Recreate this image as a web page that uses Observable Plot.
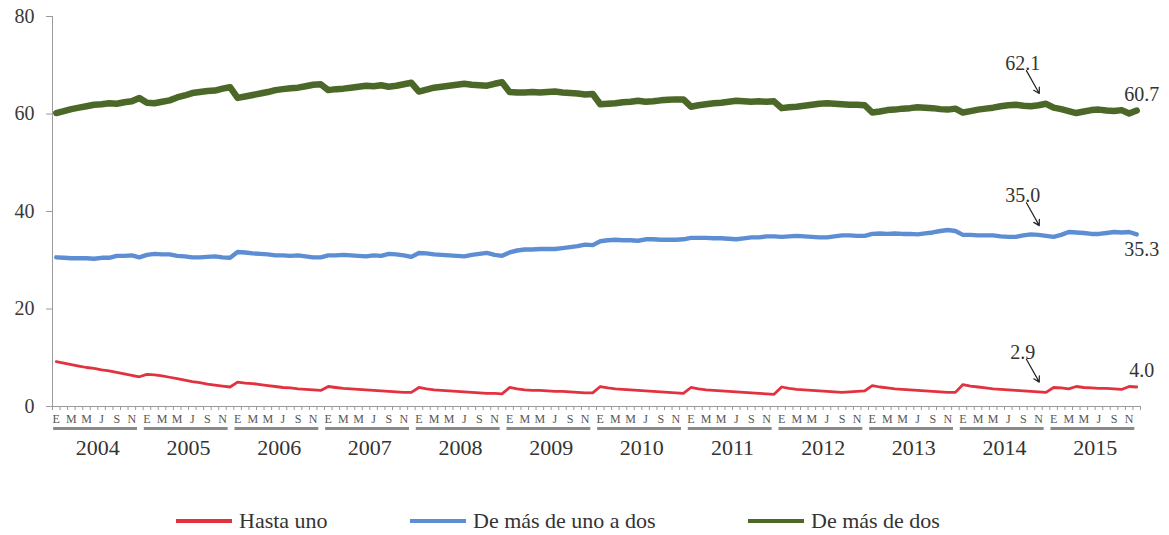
<!DOCTYPE html>
<html><head><meta charset="utf-8">
<script src="https://cdn.jsdelivr.net/npm/d3@7"></script>
<script src="https://cdn.jsdelivr.net/npm/@observablehq/plot@0.6"></script>
<style>
body{margin:0;background:#fff;}
#wrap{width:1169px;height:535px;}
#legend svg{display:block;}
</style></head><body>
<div id="wrap"><div id="chart"></div><div id="legend"></div></div>
<script>
const years = [2004,2005,2006,2007,2008,2009,2010,2011,2012,2013,2014,2015];
const monthLetters = ["E","","M","","M","","J","","S","","N",""];
const yTicks = [0,20,40,60,80];
const seriesNames = ["Hasta uno","De más de uno a dos","De más de dos"];

const hastaUno = [
 9.2,8.9,8.6,8.3,8.0,7.8,7.5,7.3,7.0,6.7,6.4,6.1,
 6.6,6.5,6.3,6.0,5.7,5.4,5.1,4.9,4.6,4.4,4.2,4.0,
 5.0,4.8,4.7,4.5,4.3,4.1,3.9,3.8,3.6,3.5,3.4,3.3,
 4.1,3.9,3.7,3.6,3.5,3.4,3.3,3.2,3.1,3.0,2.9,2.9,
 3.9,3.6,3.4,3.3,3.2,3.1,3.0,2.9,2.8,2.7,2.7,2.6,
 3.9,3.6,3.4,3.3,3.3,3.2,3.1,3.1,3.0,2.9,2.8,2.8,
 4.1,3.8,3.6,3.5,3.4,3.3,3.2,3.1,3.0,2.9,2.8,2.7,
 3.9,3.6,3.4,3.3,3.2,3.1,3.0,2.9,2.8,2.7,2.6,2.5,
 4.0,3.7,3.5,3.4,3.3,3.2,3.1,3.0,2.9,3.0,3.1,3.2,
 4.3,4.0,3.8,3.6,3.5,3.4,3.3,3.2,3.1,3.0,2.9,2.9,
 4.5,4.2,4.0,3.8,3.6,3.5,3.4,3.3,3.2,3.1,3.0,2.9,
 3.9,3.8,3.6,4.1,3.9,3.8,3.7,3.7,3.6,3.5,4.1,4.0];

const deUnoADos = [
 30.6,30.5,30.4,30.4,30.4,30.3,30.5,30.5,30.9,30.9,31.0,30.6,
 31.1,31.3,31.2,31.2,30.9,30.8,30.6,30.6,30.7,30.8,30.6,30.5,
 31.7,31.6,31.4,31.3,31.2,31.0,31.0,30.9,31.0,30.8,30.6,30.6,
 31.0,31.0,31.1,31.0,30.9,30.8,31.0,30.9,31.3,31.2,31.0,30.7,
 31.5,31.4,31.2,31.1,31.0,30.9,30.8,31.1,31.3,31.5,31.1,30.9,
 31.6,32.0,32.2,32.2,32.3,32.3,32.3,32.5,32.7,32.9,33.2,33.1,
 33.9,34.1,34.2,34.1,34.1,34.0,34.3,34.3,34.2,34.2,34.2,34.3,
 34.6,34.6,34.6,34.5,34.5,34.4,34.3,34.5,34.7,34.7,34.9,34.9,
 34.8,34.9,35.0,34.9,34.8,34.7,34.7,34.9,35.1,35.1,35.0,35.0,
 35.4,35.5,35.4,35.5,35.4,35.4,35.3,35.5,35.7,36.0,36.2,36.0,
 35.2,35.2,35.1,35.1,35.1,34.9,34.8,34.8,35.1,35.3,35.2,35.0,
 34.8,35.2,35.8,35.7,35.6,35.4,35.4,35.6,35.8,35.7,35.8,35.3];

const masDeDos = [
 60.2,60.6,61.0,61.3,61.6,61.9,62.0,62.2,62.1,62.4,62.6,63.3,
 62.3,62.2,62.5,62.8,63.4,63.8,64.3,64.5,64.7,64.8,65.2,65.5,
 63.3,63.6,63.9,64.2,64.5,64.9,65.1,65.3,65.4,65.7,66.0,66.1,
 64.9,65.1,65.2,65.4,65.6,65.8,65.7,65.9,65.6,65.8,66.1,66.4,
 64.6,65.0,65.4,65.6,65.8,66.0,66.2,66.0,65.9,65.8,66.2,66.5,
 64.5,64.4,64.4,64.5,64.4,64.5,64.6,64.4,64.3,64.2,64.0,64.1,
 62.0,62.1,62.2,62.4,62.5,62.7,62.5,62.6,62.8,62.9,63.0,63.0,
 61.5,61.8,62.0,62.2,62.3,62.5,62.7,62.6,62.5,62.6,62.5,62.6,
 61.2,61.4,61.5,61.7,61.9,62.1,62.2,62.1,62.0,61.9,61.9,61.8,
 60.3,60.5,60.8,60.9,61.1,61.2,61.4,61.3,61.2,61.0,60.9,61.1,
 60.3,60.6,60.9,61.1,61.3,61.6,61.8,61.9,61.7,61.6,61.8,62.1,
 61.3,61.0,60.6,60.2,60.5,60.8,60.9,60.7,60.6,60.8,60.1,60.7];

// annotated months: Dec 2014 (index 131) and Dec 2015 (index 143)
const annotMonth = 131;
const endMonth = 143;

const colors = {"Hasta uno":"#e2323f","De más de uno a dos":"#5d8dd3","De más de dos":"#4c6828"};
const widths = {"Hasta uno":2.8,"De más de uno a dos":4.4,"De más de dos":6.5};
const allSeries = [hastaUno, deUnoADos, masDeDos];

const rows = [];
allSeries.forEach((arr, s) => arr.forEach((v, m) => rows.push({series: seriesNames[s], m, v})));

const monthRows = [];
years.forEach((yr, yi) => monthLetters.forEach((l, j) => { if (l) monthRows.push({m: yi*12 + j, l}); }));
const yearRows = years.map((yr, yi) => ({yr, start: yi*12}));
const boundaries = d3.range(years.length*12 + 1).map(i => i - 0.5);

const annots = allSeries.map((arr, s) => ({series: seriesNames[s], m: annotMonth, v: arr[annotMonth]}));
const ends = allSeries.map((arr, s) => ({series: seriesNames[s], m: endMonth, v: arr[endMonth]}));

const fmt = d3.format(".1f");
const font = "Liberation Serif";

const lineMarks = [...seriesNames].reverse().map(name =>
  Plot.line(rows.filter(d => d.series === name), {
    x: "m", y: "v", stroke: colors[name], strokeWidth: widths[name],
    strokeLinejoin: "round", strokeLinecap: "round", curve: "linear"
  }));

const chart = Plot.plot({
  width: 1169, height: 472,
  marginLeft: 52, marginRight: 29, marginTop: 16, marginBottom: 66,
  style: {fontFamily: font, background: "#fff", color: "#333"},
  x: {domain: [-0.5, years.length*12 - 0.5], label: null},
  y: {domain: [0, 80], label: null},
  marks: [
    Plot.axisY(yTicks, {tickSize: 6, tickPadding: 12, fontSize: 20, stroke: "#9a9a9a", fill: "#3a3a3a", label: null}),
    Plot.axisX(boundaries, {tickSize: 4, tickFormat: () => "", stroke: "#9a9a9a", label: null}),
    Plot.ruleX([-0.5], {y1: 0, y2: 80, stroke: "#9a9a9a"}),
    Plot.ruleY([0], {x1: -0.5, x2: years.length*12 - 0.5, stroke: "#9a9a9a"}),
    Plot.text(monthRows, {x: "m", y: 0, text: "l", dy: 13, fontSize: 12, fill: "#555"}),
    Plot.ruleY(yearRows, {y: 0, x1: d => d.start - 0.35, x2: d => d.start + 10.75, dy: 22, stroke: "#8a8a8a", strokeWidth: 3}),
    Plot.text(yearRows, {x: d => d.start + 5.5, y: 0, text: d => String(d.yr), dy: 41, fontSize: 22, fill: "#333"}),
    ...lineMarks,
    Plot.arrow(annots, {x1: d => d.m - 2.6, y1: d => d.v + 6.8, x2: d => d.m - 0.9, y2: d => d.v + 2.1,
      stroke: "#222", strokeWidth: 1.2, headLength: 8}),
    Plot.text(annots, {x: d => d.m - 3.1, y: "v", text: d => fmt(d.v), dy: -40, fontSize: 20, fill: "#333"}),
    Plot.text(ends.filter(d => d.series !== "De más de uno a dos"), {x: "m", y: "v", text: d => fmt(d.v), dx: 5, dy: -16, fontSize: 20, fill: "#333"}),
    Plot.text(ends.filter(d => d.series === "De más de uno a dos"), {x: "m", y: "v", text: d => fmt(d.v), dx: 5, dy: 15, fontSize: 20, fill: "#333"})
  ]
});
document.getElementById("chart").appendChild(chart);

// legend (below the chart SVG)
const legendPos = [176, 410, 748];
const lsvg = d3.select("#legend").append("svg").attr("width", 1169).attr("height", 63)
  .style("font-family", "'Liberation Serif', serif").attr("font-size", 22).attr("fill", "#333");
const items = lsvg.selectAll("g").data(seriesNames).join("g")
  .attr("transform", (d, i) => `translate(${legendPos[i]},49)`);
items.append("line").attr("x1", 0).attr("x2", 56).attr("y1", 0).attr("y2", 0)
  .attr("stroke", d => colors[d]).attr("stroke-width", 4);
items.append("text").attr("x", 63).attr("dy", "0.32em").text(d => d);
</script>
</body></html>
